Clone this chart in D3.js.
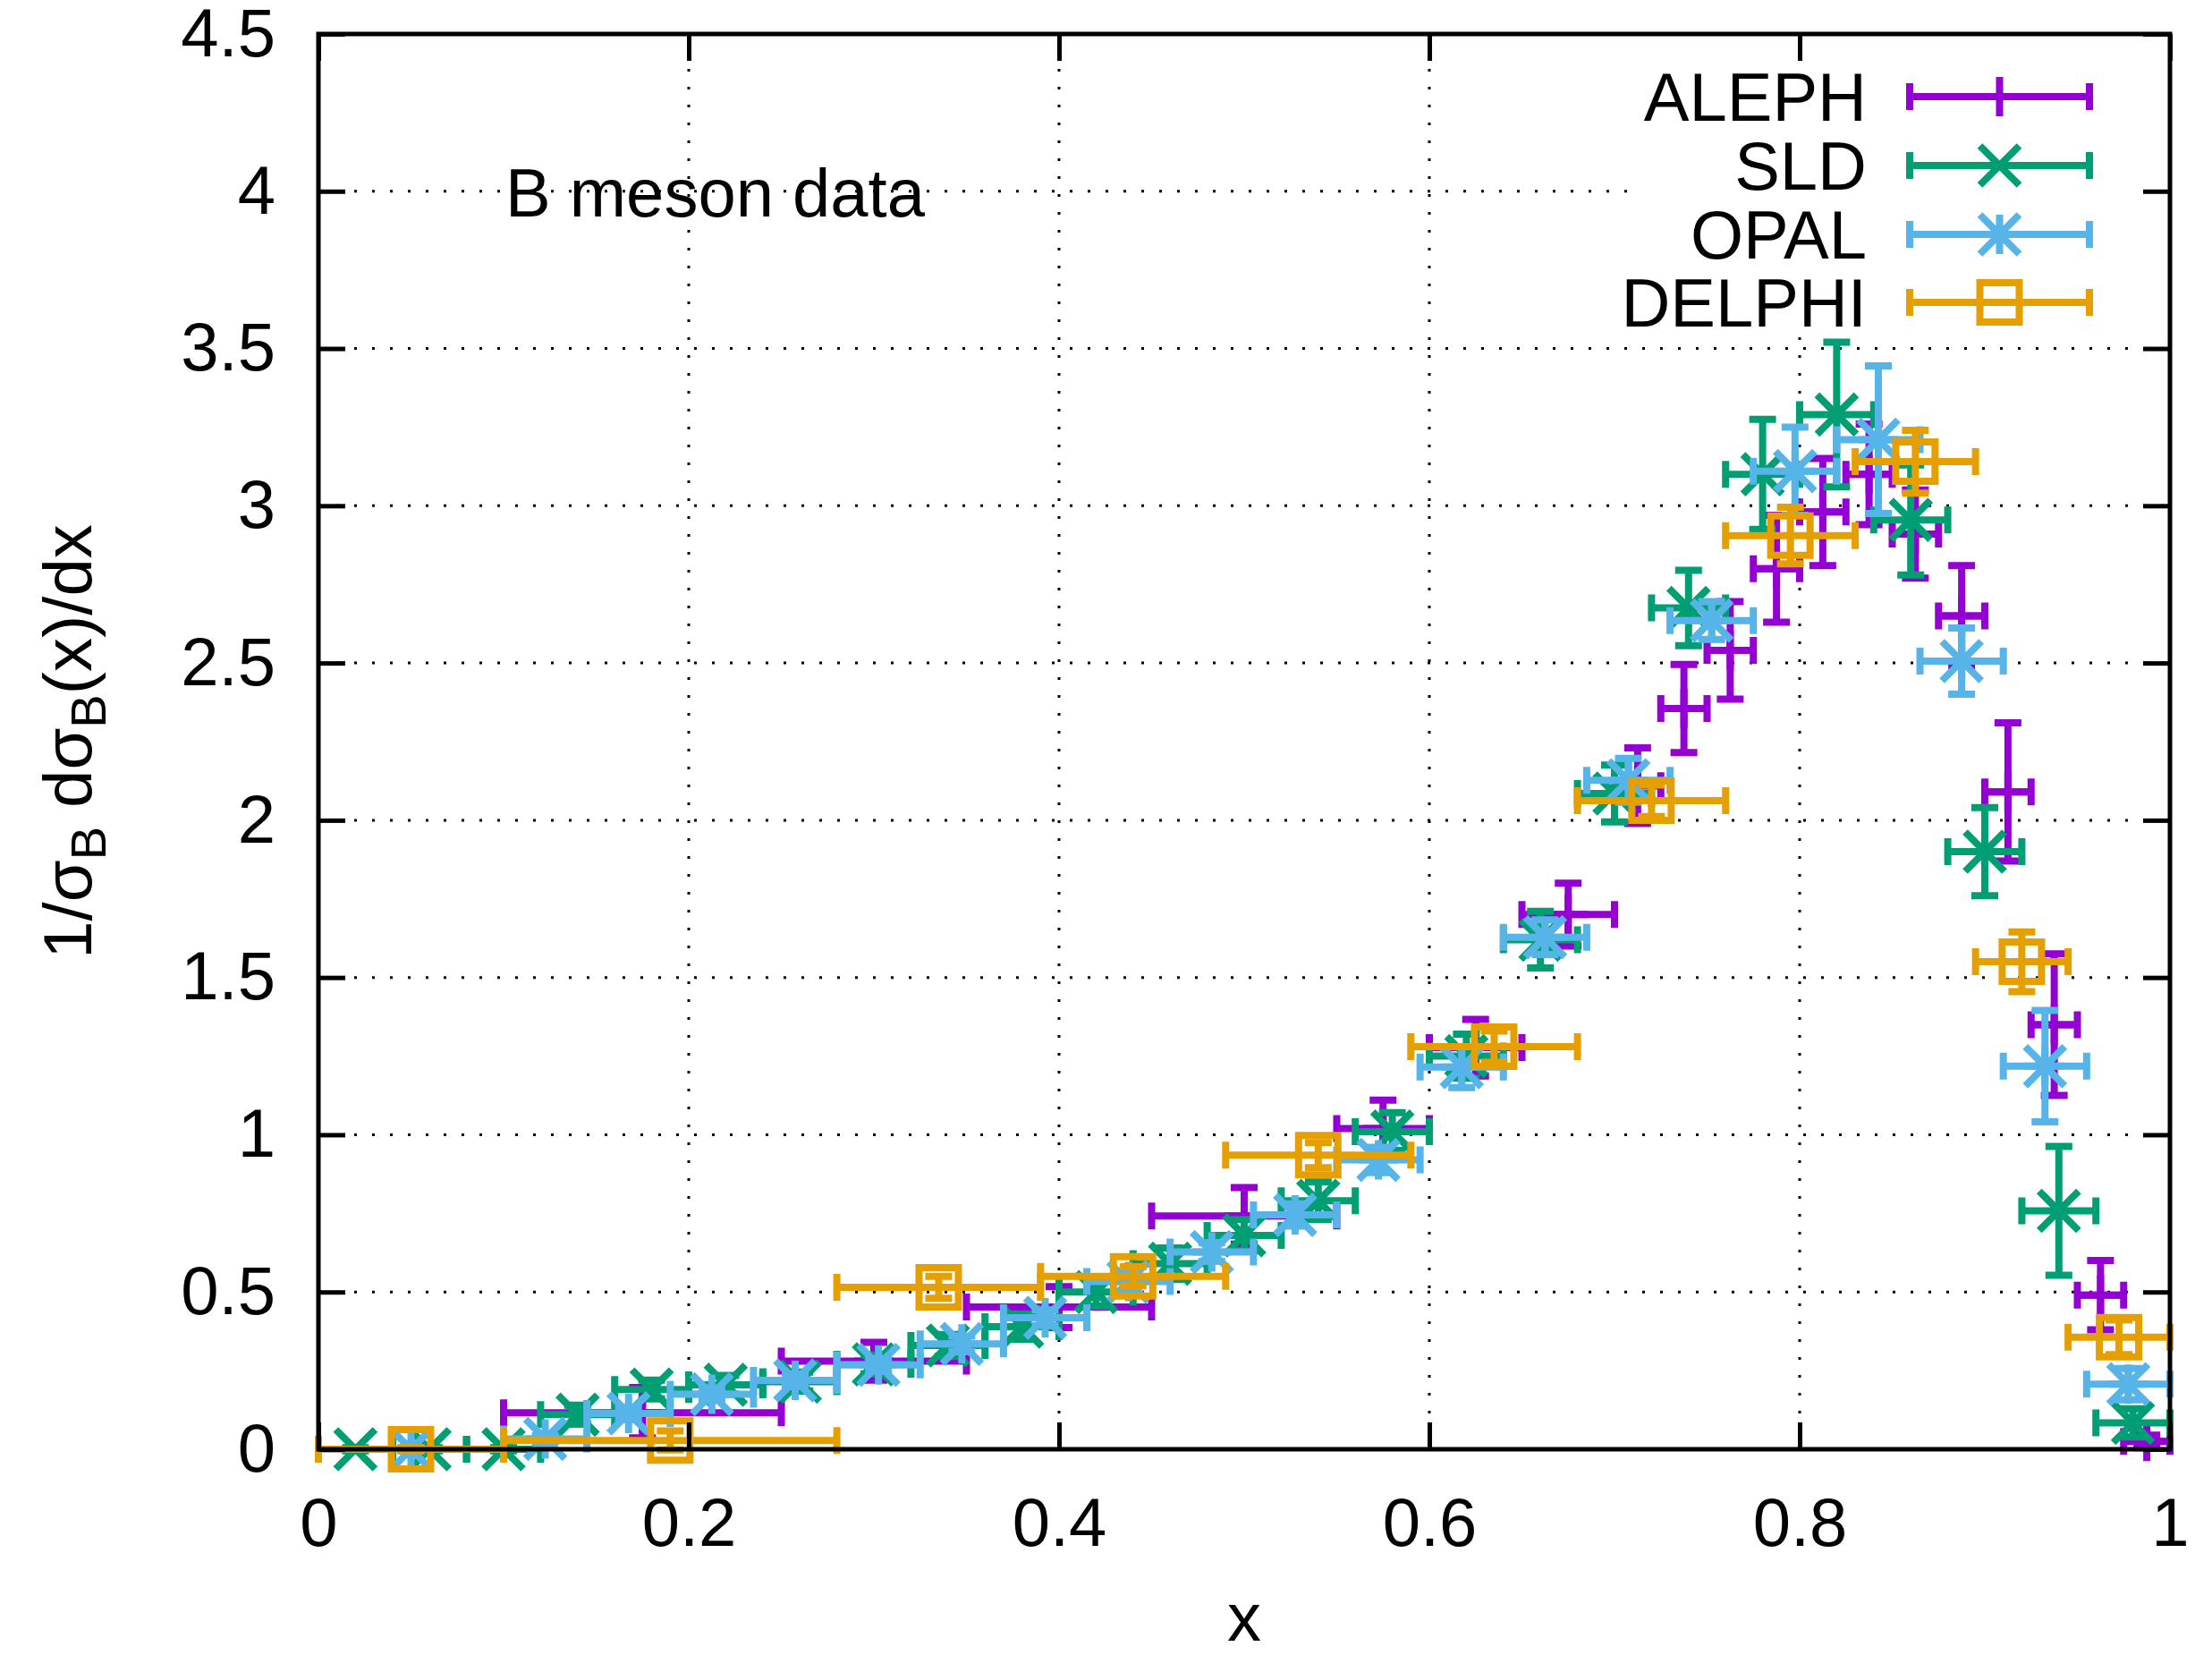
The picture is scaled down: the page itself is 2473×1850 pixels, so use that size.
<!DOCTYPE html>
<html>
<head>
<meta charset="utf-8">
<script src="https://cdn.jsdelivr.net/npm/d3@7"></script>
<style>
  html, body { margin: 0; padding: 0; background: #fff; }
  text { font-family: "Liberation Sans", Arial, Helvetica, sans-serif; fill: #000; }
</style>
</head>
<body>
<svg id="chart" width="2473" height="1850"></svg>
<script>
// ---- axis ticks ----
const xTicks = [0, 0.2, 0.4, 0.6, 0.8, 1];
const xTickLabels = ["0", "0.2", "0.4", "0.6", "0.8", "1"];
const yTicks = [0, 0.5, 1, 1.5, 2, 2.5, 3, 3.5, 4, 4.5];
const yTickLabels = ["0", "0.5", "1", "1.5", "2", "2.5", "3", "3.5", "4", "4.5"];

// ---- ALEPH: bin centre, bin edges, value, error ----
const alephX  = [0.175, 0.30, 0.40, 0.50, 0.575, 0.625, 0.675, 0.7125, 0.7375, 0.7625, 0.7875, 0.8125, 0.8375, 0.8625, 0.8875, 0.9125, 0.9375, 0.9625, 0.9875];
const alephLo = [0.10, 0.25, 0.35, 0.45, 0.55, 0.60, 0.65, 0.70, 0.725, 0.75, 0.775, 0.80, 0.825, 0.85, 0.875, 0.90, 0.925, 0.95, 0.975];
const alephHi = [0.25, 0.35, 0.45, 0.55, 0.60, 0.65, 0.70, 0.725, 0.75, 0.775, 0.80, 0.825, 0.85, 0.875, 0.90, 0.925, 0.95, 0.975, 1.0];
const alephY  = [0.116, 0.28, 0.452, 0.742, 1.02, 1.277, 1.70, 2.11, 2.355, 2.54, 2.80, 2.98, 3.10, 2.91, 2.65, 2.09, 1.35, 0.49, 0.025];
const alephDy = [0.08, 0.06, 0.065, 0.09, 0.09, 0.09, 0.10, 0.12, 0.14, 0.155, 0.17, 0.17, 0.16, 0.14, 0.16, 0.22, 0.225, 0.11, 0.02];

// ---- SLD ----
const sldX  = [0.02, 0.06, 0.10, 0.14, 0.18, 0.22, 0.26, 0.30, 0.34, 0.38, 0.42, 0.46, 0.50, 0.54, 0.58, 0.62, 0.66, 0.70, 0.74, 0.78, 0.82, 0.86, 0.90, 0.94, 0.98];
const sldDx = [0.02, 0.02, 0.02, 0.02, 0.02, 0.02, 0.02, 0.02, 0.02, 0.02, 0.02, 0.02, 0.02, 0.02, 0.02, 0.02, 0.02, 0.02, 0.02, 0.02, 0.02, 0.02, 0.02, 0.02, 0.02];
const sldY  = [0, 0, 0, 0.11, 0.19, 0.205, 0.215, 0.27, 0.33, 0.39, 0.50, 0.59, 0.68, 0.79, 1.01, 1.25, 1.62, 2.085, 2.675, 3.10, 3.29, 2.955, 1.90, 0.758, 0.084];
const sldDy = [0.005, 0.005, 0.005, 0.03, 0.03, 0.03, 0.03, 0.03, 0.035, 0.04, 0.045, 0.05, 0.05, 0.06, 0.06, 0.07, 0.09, 0.09, 0.12, 0.175, 0.23, 0.175, 0.14, 0.205, 0.045];

// ---- OPAL ----
const opalX  = [0.05, 0.1225, 0.1675, 0.2125, 0.2575, 0.3025, 0.3475, 0.3925, 0.4375, 0.4825, 0.5275, 0.5725, 0.6175, 0.6625, 0.7075, 0.7525, 0.7975, 0.8425, 0.8875, 0.9325, 0.9775];
const opalDx = [0.05, 0.0225, 0.0225, 0.0225, 0.0225, 0.0225, 0.0225, 0.0225, 0.0225, 0.0225, 0.0225, 0.0225, 0.0225, 0.0225, 0.0225, 0.0225, 0.0225, 0.0225, 0.0225, 0.0225, 0.0225];
const opalY  = [0, 0.033, 0.114, 0.175, 0.219, 0.268, 0.335, 0.418, 0.533, 0.627, 0.745, 0.92, 1.215, 1.628, 2.127, 2.635, 3.11, 3.21, 2.506, 1.218, 0.207];
const opalDy = [0.005, 0.01, 0.02, 0.02, 0.02, 0.02, 0.025, 0.025, 0.03, 0.03, 0.035, 0.04, 0.065, 0.055, 0.07, 0.06, 0.14, 0.235, 0.105, 0.177, 0.05];

// ---- DELPHI ----
const delphiX  = [0.05, 0.19, 0.335, 0.44, 0.54, 0.635, 0.72, 0.795, 0.8625, 0.92, 0.9725];
const delphiLo = [0.0, 0.10, 0.28, 0.39, 0.49, 0.59, 0.68, 0.76, 0.83, 0.895, 0.945];
const delphiHi = [0.10, 0.28, 0.39, 0.49, 0.59, 0.68, 0.76, 0.83, 0.895, 0.945, 1.0];
const delphiY  = [0, 0.028, 0.515, 0.55, 0.935, 1.28, 2.062, 2.905, 3.14, 1.55, 0.356];
const delphiDy = [0.005, 0.03, 0.035, 0.03, 0.04, 0.05, 0.05, 0.09, 0.10, 0.095, 0.055];

// ---- layout ----
const W = 2473, H = 1850;
const plot = { left: 356, right: 2426, top: 38, bottom: 1620 };
const LW = 8;          // line width of error bars and symbols
const CAP = 15;        // half length of error-bar caps
const PS = 22;         // half size of point symbols
const FS = 76;         // font size

const x = d3.scaleLinear().domain([0, 1]).range([plot.left, plot.right]);
const y = d3.scaleLinear().domain([0, 4.5]).range([plot.bottom, plot.top]);

const svg = d3.select("#chart");
svg.append("rect").attr("width", W).attr("height", H).attr("fill", "#fff");

// dotted grid
const grid = svg.append("g")
  .attr("stroke", "#000").attr("stroke-width", 3)
  .attr("stroke-dasharray", "3,17").attr("fill", "none");
grid.selectAll("line.gx").data(xTicks.filter(v => v > 0 && v < 1)).join("line")
  .attr("class", "gx")
  .attr("x1", d => x(d)).attr("x2", d => x(d))
  .attr("y1", plot.bottom).attr("y2", plot.top);
grid.selectAll("line.gy").data(yTicks.filter(v => v > 0 && v < 4.5)).join("line")
  .attr("class", "gy")
  .attr("x1", plot.left).attr("x2", plot.right)
  .attr("y1", d => y(d)).attr("y2", d => y(d));

// opaque key background
const key = { textRight: 2087, sx0: 2135, sx1: 2336, rows: [108, 185, 262, 338] };
svg.append("rect").attr("x", 1819).attr("y", 68).attr("width", 560).attr("height", 308).attr("fill", "#fff");

// symbol shapes
function symbolPath(kind, s) {
  const plus = `M${-s},0H${s}M0,${-s}V${s}`;
  const cross = `M${-s},${-s}L${s},${s}M${-s},${s}L${s},${-s}`;
  if (kind === "plus") return plus;
  if (kind === "cross") return cross;
  if (kind === "star") return plus + cross;
  if (kind === "square") return `M${-s},${-s}H${s}V${s}H${-s}Z`;
  return "";
}

const series = [
  { name: "ALEPH",  color: "#9400d3", symbol: "plus",
    pts: alephX.map((v, i) => ({ x: v, lo: alephLo[i], hi: alephHi[i], y: alephY[i], dy: alephDy[i] })) },
  { name: "SLD",    color: "#009e73", symbol: "cross",
    pts: sldX.map((v, i) => ({ x: v, lo: v - sldDx[i], hi: v + sldDx[i], y: sldY[i], dy: sldDy[i] })) },
  { name: "OPAL",   color: "#56b4e9", symbol: "star",
    pts: opalX.map((v, i) => ({ x: v, lo: v - opalDx[i], hi: v + opalDx[i], y: opalY[i], dy: opalDy[i] })) },
  { name: "DELPHI", color: "#e69f00", symbol: "square",
    pts: delphiX.map((v, i) => ({ x: v, lo: delphiLo[i], hi: delphiHi[i], y: delphiY[i], dy: delphiDy[i] })) }
];

// x/y error bars with caps plus the point symbol
function errorBarPath(px, py, xl, xh, yl, yh) {
  return `M${xl},${py}H${xh}` +
         `M${xl},${py - CAP}V${py + CAP}M${xh},${py - CAP}V${py + CAP}` +
         `M${px},${yl}V${yh}` +
         `M${px - CAP},${yl}H${px + CAP}M${px - CAP},${yh}H${px + CAP}`;
}

series.forEach(s => {
  const g = svg.append("g").attr("class", "series")
    .attr("stroke", s.color).attr("stroke-width", LW).attr("fill", "none")
    .attr("stroke-linecap", "butt");
  g.selectAll("path.err").data(s.pts).join("path").attr("class", "err")
    .attr("d", d => errorBarPath(x(d.x), y(d.y), x(d.lo), x(d.hi), y(d.y - d.dy), y(d.y + d.dy)));
  g.selectAll("path.sym").data(s.pts).join("path").attr("class", "sym")
    .attr("transform", d => `translate(${x(d.x)},${y(d.y)})`)
    .attr("d", symbolPath(s.symbol, PS));
});

// key entries
series.forEach((s, i) => {
  const cy = key.rows[i];
  svg.append("text").attr("x", key.textRight).attr("y", cy)
    .attr("dy", "0.36em").attr("text-anchor", "end")
    .attr("font-size", FS).text(s.name);
  const cx = (key.sx0 + key.sx1) / 2;
  const g = svg.append("g")
    .attr("stroke", s.color).attr("stroke-width", LW).attr("fill", "none");
  g.append("path").attr("d",
    `M${key.sx0},${cy}H${key.sx1}M${key.sx0},${cy - CAP}V${cy + CAP}M${key.sx1},${cy - CAP}V${cy + CAP}`);
  g.append("path").attr("transform", `translate(${cx},${cy})`).attr("d", symbolPath(s.symbol, PS));
});

// axes: inward ticks on all four sides
function styleAxis(sel) {
  sel.select(".domain").remove();
  sel.selectAll(".tick line").attr("stroke", "#000").attr("stroke-width", 5);
  sel.selectAll(".tick text").attr("font-size", FS).attr("fill", "#000")
    .attr("font-family", "'Liberation Sans', Arial, Helvetica, sans-serif");
}
svg.append("g").attr("transform", `translate(0,${plot.bottom})`)
  .call(d3.axisBottom(x).tickValues(xTicks).tickSize(-30).tickPadding(54)
    .tickFormat((d, i) => xTickLabels[i]))
  .call(styleAxis);
svg.append("g").attr("transform", `translate(0,${plot.top})`)
  .call(d3.axisTop(x).tickValues(xTicks).tickSize(-30).tickFormat(""))
  .call(styleAxis);
svg.append("g").attr("transform", `translate(${plot.left},0)`)
  .call(d3.axisLeft(y).tickValues(yTicks).tickSize(-30).tickPadding(48)
    .tickFormat((d, i) => yTickLabels[i]))
  .call(styleAxis);
svg.append("g").attr("transform", `translate(${plot.right},0)`)
  .call(d3.axisRight(y).tickValues(yTicks).tickSize(-30).tickFormat(""))
  .call(styleAxis);

// frame
svg.append("rect")
  .attr("x", plot.left).attr("y", plot.top)
  .attr("width", plot.right - plot.left).attr("height", plot.bottom - plot.top)
  .attr("fill", "none").attr("stroke", "#000").attr("stroke-width", 5);

// annotation inside the plot
svg.append("text").attr("x", 565).attr("y", 242).attr("font-size", FS).text("B meson data");

// axis titles
svg.append("text").attr("x", (plot.left + plot.right) / 2).attr("y", 1834)
  .attr("text-anchor", "middle").attr("font-size", FS).text("x");

const yl = svg.append("text")
  .attr("transform", `translate(102,${(plot.top + plot.bottom) / 2}) rotate(-90)`)
  .attr("text-anchor", "middle").attr("font-size", FS);
yl.append("tspan").text("1/σ");
yl.append("tspan").attr("font-size", 56).attr("dy", 16).text("B");
yl.append("tspan").attr("dy", -16).text(" dσ");
yl.append("tspan").attr("font-size", 56).attr("dy", 16).text("B");
yl.append("tspan").attr("dy", -16).text("(x)/dx");
</script>
</body>
</html>
